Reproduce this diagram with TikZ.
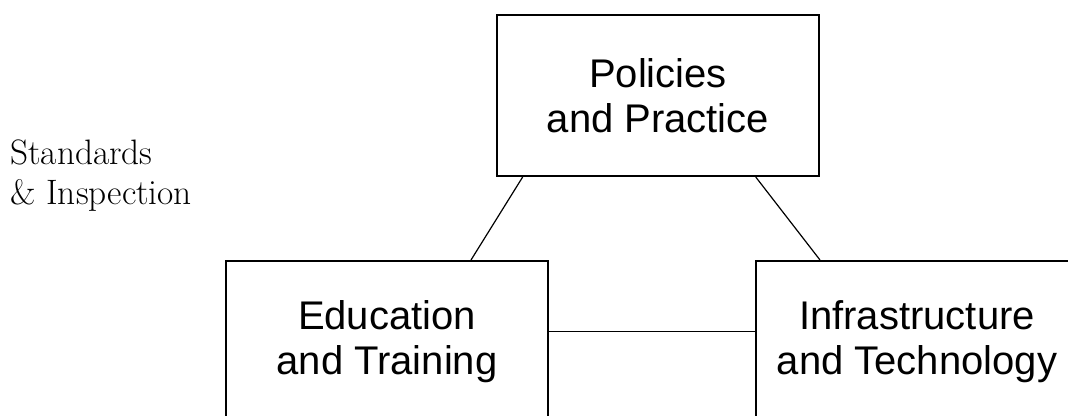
\documentclass[tikz,border=0pt]{standalone}
\usepackage{fontspec}
\newfontfamily\boxfont{Liberation Sans}
\begin{document}
\begin{tikzpicture}[x=0.75pt,y=-0.75pt,
  boxnode/.style={draw=black, line width=1.5pt, minimum width=241.5pt, minimum height=120.75pt,
    align=center, inner sep=0pt, font=\boxfont\fontsize{30}{33.75}\selectfont},
  link/.style={draw=black, line width=0.9pt},
  side/.style={align=left, anchor=base west, inner sep=0pt, font=\fontsize{26.5}{30}\selectfont}]
\useasboundingbox (0,0) rectangle (1068,416);
\clip (0,0) rectangle (1068,416);
\node[boxnode] (pol) at (658,95.5) {Policies\\and Practice};
\node[boxnode] (edu) at (387,341.5) {Education\\and Training};
\node[boxnode] (inf) at (917,341.5) {Infrastructure\\and Technology};
\node[side] (std) at (10,205) {Standards\\\& Inspection};
\draw[link] ([xshift=-101.5pt]pol.south) -- ([xshift=63pt]edu.north);
\draw[link] ([xshift=73.3pt]pol.south) -- ([xshift=-72.75pt]inf.north);
\draw[link] ([yshift=7.35pt]edu.east) -- ([yshift=7.35pt]inf.west);
\end{tikzpicture}
\end{document}
